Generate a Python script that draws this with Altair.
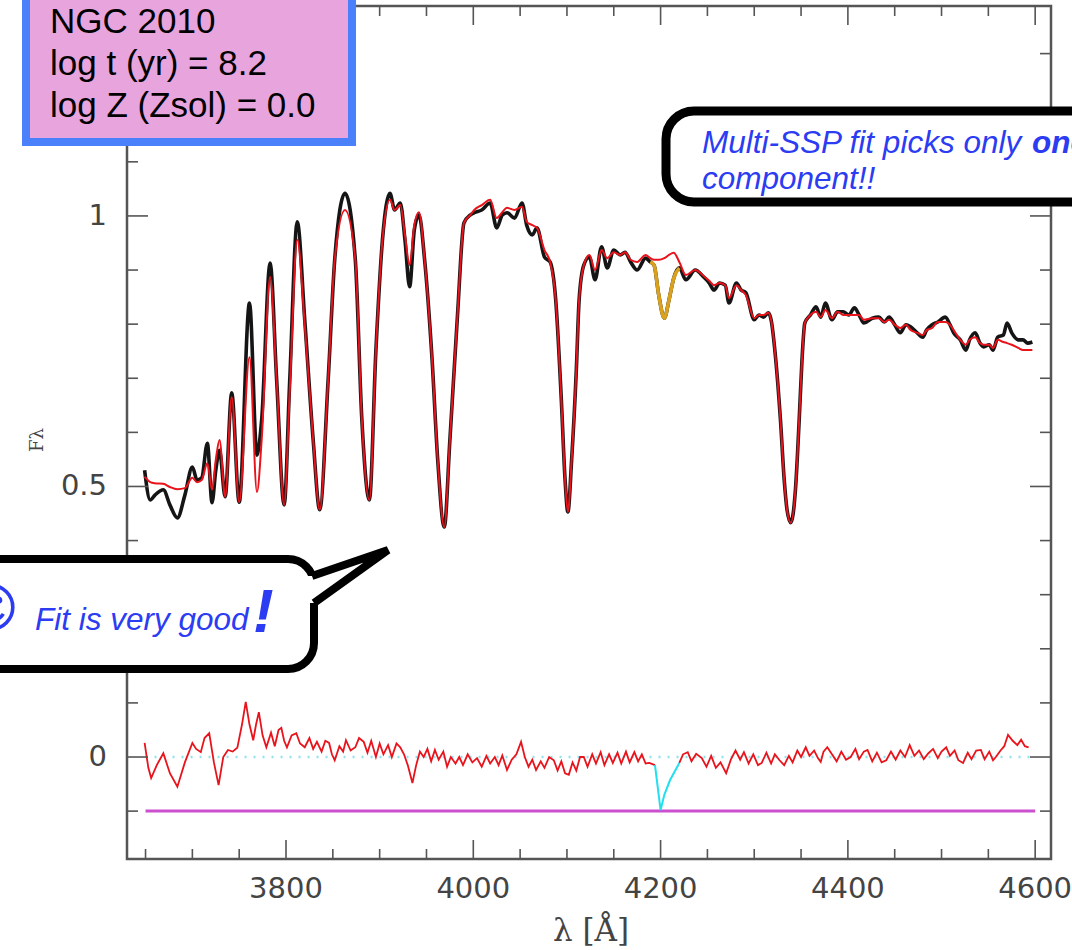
import altair as alt
import pandas as pd

# ---------------- data ----------------
wavelength = [3649, 3655, 3660, 3669, 3676, 3684, 3692, 3700, 3705, 3710, 3716, 3721, 3725, 3729, 3735,
              3742, 3750, 3761, 3769, 3774, 3783, 3790, 3798, 3804, 3812, 3820, 3829, 3836, 3845, 3852,
              3863, 3874, 3881, 3889, 3896, 3903, 3911, 3916, 3922, 3927, 3932, 3937, 3942, 3948, 3956,
              3962, 3969, 3975, 3983, 3990, 3997, 4001, 4009, 4018, 4025, 4031, 4036, 4044, 4052, 4057,
              4063, 4068, 4076, 4082, 4088, 4094, 4098, 4101, 4105, 4110, 4113, 4118, 4124, 4130, 4137,
              4143, 4150, 4157, 4162, 4168, 4175, 4184, 4189, 4193, 4198, 4204, 4209, 4214, 4220, 4227,
              4237, 4246, 4252, 4257, 4263, 4269, 4273, 4281, 4286, 4291, 4300, 4305, 4310, 4315, 4318,
              4323, 4328, 4332, 4335, 4339, 4344, 4348, 4351, 4354, 4360, 4366, 4371, 4376, 4383, 4389,
              4395, 4401, 4407, 4412, 4417, 4426, 4433, 4439, 4444, 4450, 4456, 4462, 4467, 4474, 4480,
              4484, 4490, 4496, 4504, 4509, 4513, 4520, 4526, 4530, 4536, 4541, 4545, 4551, 4555, 4560,
              4566, 4570, 4575, 4582, 4587, 4592, 4597]
observed = [0.530, 0.475, 0.484, 0.494, 0.466, 0.442, 0.484, 0.536, 0.512, 0.516, 0.580, 0.470, 0.530, 0.567, 0.481,
            0.673, 0.471, 0.839, 0.558, 0.623, 0.913, 0.697, 0.466, 0.697, 0.989, 0.808, 0.586, 0.457, 0.697, 0.919,
            1.042, 0.919, 0.623, 0.475, 0.752, 0.956, 1.042, 1.011, 1.024, 0.956, 0.869, 0.974, 1.002, 0.919, 0.734,
            0.549, 0.425, 0.586, 0.813, 0.987, 1.002, 1.006, 1.011, 1.024, 0.978, 1.002, 1.006, 0.996, 1.024, 0.983,
            0.965, 0.978, 0.924, 0.915, 0.845, 0.660, 0.512, 0.453, 0.549, 0.715, 0.845, 0.909, 0.924, 0.882, 0.943,
            0.904, 0.937, 0.928, 0.933, 0.915, 0.900, 0.922, 0.915, 0.909, 0.854, 0.811, 0.845, 0.885, 0.904, 0.882,
            0.900, 0.887, 0.876, 0.863, 0.876, 0.872, 0.839, 0.876, 0.863, 0.858, 0.808, 0.817, 0.813, 0.821, 0.808,
            0.734, 0.623, 0.512, 0.457, 0.433, 0.494, 0.623, 0.734, 0.802, 0.817, 0.832, 0.813, 0.839, 0.808, 0.823,
            0.823, 0.817, 0.830, 0.817, 0.802, 0.811, 0.813, 0.804, 0.813, 0.799, 0.784, 0.799, 0.795, 0.784, 0.776,
            0.789, 0.799, 0.804, 0.813, 0.799, 0.784, 0.771, 0.752, 0.771, 0.784, 0.765, 0.758, 0.762, 0.752, 0.776,
            0.780, 0.802, 0.784, 0.771, 0.771, 0.765, 0.767]
model = [0.518, 0.508, 0.506, 0.505, 0.499, 0.495, 0.497, 0.516, 0.508, 0.512, 0.543, 0.494, 0.549, 0.586, 0.481,
         0.665, 0.471, 0.739, 0.490, 0.586, 0.887, 0.697, 0.466, 0.678, 0.956, 0.799, 0.586, 0.457, 0.697, 0.919,
         1.011, 0.919, 0.623, 0.475, 0.752, 0.956, 1.030, 1.011, 1.020, 0.965, 0.909, 0.983, 1.007, 0.919, 0.734,
         0.549, 0.425, 0.586, 0.813, 0.987, 1.002, 1.011, 1.020, 1.030, 0.996, 1.007, 1.015, 1.011, 1.017, 0.989,
         0.983, 0.978, 0.937, 0.915, 0.845, 0.660, 0.512, 0.453, 0.549, 0.715, 0.845, 0.909, 0.928, 0.900, 0.937,
         0.922, 0.933, 0.928, 0.933, 0.919, 0.915, 0.928, 0.922, 0.919, 0.919, 0.922, 0.928, 0.932, 0.915, 0.891,
         0.900, 0.889, 0.880, 0.872, 0.876, 0.872, 0.848, 0.872, 0.863, 0.854, 0.811, 0.817, 0.817, 0.821, 0.808,
         0.734, 0.623, 0.512, 0.457, 0.433, 0.494, 0.623, 0.734, 0.802, 0.817, 0.823, 0.813, 0.826, 0.811, 0.823,
         0.817, 0.817, 0.817, 0.817, 0.808, 0.811, 0.811, 0.804, 0.808, 0.799, 0.793, 0.799, 0.789, 0.784, 0.780,
         0.789, 0.793, 0.804, 0.804, 0.799, 0.789, 0.771, 0.762, 0.771, 0.776, 0.765, 0.762, 0.762, 0.756, 0.771,
         0.767, 0.765, 0.762, 0.756, 0.752, 0.752, 0.752]

mask_wavelength = [4189, 4193, 4198, 4204, 4209, 4214, 4220]
mask_observed = [0.915, 0.909, 0.854, 0.811, 0.845, 0.885, 0.904]

res_wavelength = [3649, 3653, 3656, 3662, 3669, 3676, 3684, 3692, 3700, 3704, 3709, 3713, 3718, 3723, 3728,
                  3733, 3738, 3743, 3748, 3753, 3757, 3761, 3765, 3768, 3771, 3775, 3779, 3784, 3788, 3792,
                  3795, 3798, 3801, 3806, 3811, 3815, 3820, 3825, 3829, 3833, 3838, 3842, 3846, 3849, 3852,
                  3857, 3861, 3864, 3869, 3874, 3878, 3883, 3887, 3891, 3896, 3900, 3904, 3909, 3913, 3918,
                  3922, 3926, 3930, 3935, 3939, 3943, 3947, 3951, 3955, 3959, 3963, 3968, 3972, 3976, 3981,
                  3985, 3989, 3994, 3999, 4004, 4009, 4014, 4018, 4023, 4027, 4031, 4036, 4041, 4046, 4051,
                  4055, 4059, 4063, 4067, 4072, 4076, 4081, 4086, 4090, 4094, 4098, 4102, 4106, 4110, 4114,
                  4118, 4122, 4127, 4131, 4136, 4140, 4145, 4149, 4154, 4158, 4163, 4167, 4172, 4176, 4180,
                  4184, 4188, 4194,
                  4220, 4224, 4229, 4233, 4238, 4244, 4249, 4254, 4259, 4264, 4270, 4275, 4280, 4285, 4289,
                  4294, 4299, 4304, 4308, 4313, 4318, 4322, 4327, 4332, 4337, 4341, 4346, 4350, 4355, 4359,
                  4364, 4368, 4371, 4374, 4378, 4383, 4388, 4393, 4398, 4403, 4408, 4412, 4417, 4421, 4426,
                  4431, 4436, 4441, 4446, 4451, 4456, 4461, 4466, 4471, 4476, 4481, 4486, 4491, 4496, 4500,
                  4505, 4509, 4514, 4518, 4523, 4528, 4532, 4537, 4542, 4546, 4551, 4555, 4558, 4563, 4567,
                  4571, 4576, 4581, 4585, 4589, 4593]
residual = [0.026, -0.020, -0.039, -0.015, 0.007, -0.030, -0.055, -0.010, 0.026, 0.015, 0.009, 0.035, 0.044, -0.010, -0.052,
            0.000, 0.013, 0.010, 0.017, 0.060, 0.102, 0.060, 0.031, 0.060, 0.083, 0.040, 0.018, 0.045, 0.020, 0.050,
            0.054, 0.030, 0.018, 0.040, 0.044, 0.025, 0.018, 0.035, 0.015, 0.028, 0.010, 0.030, 0.026, 0.005, -0.006,
            0.020, 0.010, 0.031, 0.012, 0.018, 0.035, 0.028, 0.008, 0.030, 0.000, 0.025, 0.005, 0.022, 0.000, 0.025,
            0.018, 0.005, -0.015, -0.048, -0.015, 0.010, 0.000, 0.015, -0.008, 0.013, -0.005, 0.010, -0.018, 0.000, -0.012,
            0.000, -0.015, 0.005, -0.010, -0.002, -0.018, 0.002, -0.012, 0.000, -0.015, 0.003, -0.024, -0.005, 0.005, 0.028,
            0.000, -0.018, -0.005, -0.024, -0.008, -0.020, 0.000, -0.006, -0.025, -0.008, -0.030, -0.033, -0.010, -0.025, 0.000,
            0.000, -0.018, 0.005, -0.012, 0.009, -0.015, 0.005, -0.011, 0.008, -0.012, 0.010, -0.010, 0.009, -0.008, 0.005,
            -0.012, -0.011, -0.015,
            -0.011, 0.005, 0.009, -0.008, 0.006, -0.002, -0.018, 0.002, -0.020, -0.010, -0.030, -0.005, 0.012, -0.005, 0.009,
            -0.012, 0.005, -0.015, -0.011, 0.008, -0.012, 0.005, -0.006, -0.015, 0.002, -0.010, 0.012, 0.000, 0.018, 0.002,
            0.012, -0.002, -0.009, 0.010, 0.018, 0.005, -0.008, 0.010, -0.005, 0.000, 0.015, -0.004, 0.010, 0.013, -0.008,
            0.008, -0.010, -0.006, 0.010, -0.005, 0.012, 0.000, 0.022, 0.002, 0.012, -0.004, 0.007, 0.015, -0.002, 0.010,
            0.018, 0.002, 0.012, -0.006, -0.011, 0.008, -0.004, 0.012, 0.013, -0.004, 0.010, -0.006, 0.000, 0.012, 0.020,
            0.041, 0.030, 0.022, 0.032, 0.020, 0.018]

mask_res_wavelength = [4194, 4200, 4204, 4210, 4220]
mask_residual = [-0.015, -0.098, -0.070, -0.043, -0.011]

level_wavelength = [3650, 4600]
zero_level = [0.0, 0.0]
offset_level = [-0.1, -0.1]

x_major = [3800, 4000, 4200, 4400, 4600]
x_minor = [3650, 3700, 3750, 3850, 3900, 3950, 4050, 4100, 4150, 4250, 4300, 4350, 4450, 4500, 4550]
y_major = [0, 0.5, 1]
y_minor = [-0.1, 0.1, 0.2, 0.3, 0.4, 0.6, 0.7, 0.8, 0.9, 1.1, 1.2, 1.3]

# ---------------- layout ----------------
LEFT, TOP, W, H = 127, 6, 924, 853

spec = pd.DataFrame({"wl": wavelength, "obs": observed, "mod": model})
mask = pd.DataFrame({"wl": mask_wavelength, "obs": mask_observed})
res = pd.DataFrame({"wl": res_wavelength, "res": residual})
res["part"] = (res["wl"] > 4200).astype(int)
cres = pd.DataFrame({"wl": mask_res_wavelength, "res": mask_residual})
levels = pd.DataFrame({"wl": level_wavelength, "zero": zero_level, "off": offset_level})
xmaj = pd.DataFrame({"t": x_major})
xmin = pd.DataFrame({"t": x_minor})
ymaj = pd.DataFrame({"t": y_major})
ymin = pd.DataFrame({"t": y_minor})
one = pd.DataFrame({"k": [0]})

xs = alt.Scale(domain=[3630.2, 4616.9], nice=False, zero=False)
ys = alt.Scale(domain=[-0.1885, 1.388], nice=False, zero=False)


def X(f):
    return alt.X(f, type="quantitative", scale=xs, axis=None, title=None)


def Y(f):
    return alt.Y(f, type="quantitative", scale=ys, axis=None, title=None)


LABEL_FONT = "DejaVu Sans"
LABEL_COLOR = "#444"

black = alt.Chart(spec).mark_line(color="#151515", strokeWidth=3.6, interpolate="monotone").encode(
    x=X("wl"), y=Y("obs"), order="wl:Q")
yellow = alt.Chart(mask).mark_line(color="#d9a11e", strokeWidth=3.6, interpolate="monotone").encode(
    x=X("wl"), y=Y("obs"), order="wl:Q")
red = alt.Chart(spec).mark_line(color="#e8131b", strokeWidth=2, interpolate="monotone").encode(
    x=X("wl"), y=Y("mod"), order="wl:Q")

zero_line = alt.Chart(levels).mark_line(color="#8fe4ec", strokeWidth=2.5, strokeDash=[2, 7]).encode(
    x=X("wl"), y=Y("zero"))
offset_line = alt.Chart(levels).mark_line(color="#cc4fd0", strokeWidth=3).encode(
    x=X("wl"), y=Y("off"))
res_line = alt.Chart(res).mark_line(color="#e8131b", strokeWidth=1.8).encode(
    x=X("wl"), y=Y("res"), detail="part:N", order="wl:Q")
cres_line = alt.Chart(cres).mark_line(color="#22dff0", strokeWidth=2).encode(
    x=X("wl"), y=Y("res"), order="wl:Q")

TICK = "#555"
ticks = [
    alt.Chart(xmaj).mark_rule(color=TICK, strokeWidth=1.6).encode(x=X("t"), y=alt.value(H), y2=alt.value(H - 19)),
    alt.Chart(xmin).mark_rule(color=TICK, strokeWidth=1.6).encode(x=X("t"), y=alt.value(H), y2=alt.value(H - 10)),
    alt.Chart(xmaj).mark_rule(color=TICK, strokeWidth=1.6).encode(x=X("t"), y=alt.value(0), y2=alt.value(19)),
    alt.Chart(xmin).mark_rule(color=TICK, strokeWidth=1.6).encode(x=X("t"), y=alt.value(0), y2=alt.value(10)),
    alt.Chart(ymaj).mark_rule(color=TICK, strokeWidth=1.6).encode(y=Y("t"), x=alt.value(0), x2=alt.value(21)),
    alt.Chart(ymin).mark_rule(color=TICK, strokeWidth=1.6).encode(y=Y("t"), x=alt.value(0), x2=alt.value(11)),
    alt.Chart(ymaj).mark_rule(color=TICK, strokeWidth=1.6).encode(y=Y("t"), x=alt.value(W), x2=alt.value(W - 21)),
    alt.Chart(ymin).mark_rule(color=TICK, strokeWidth=1.6).encode(y=Y("t"), x=alt.value(W), x2=alt.value(W - 11)),
]

# tick labels (drawn through the same scales)
xlabels = alt.Chart(xmaj).mark_text(font=LABEL_FONT, fontSize=29, color=LABEL_COLOR, align="center",
                                    baseline="alphabetic").encode(
    x=X("t"), y=alt.value(898 - TOP), text=alt.Text("t:Q", format="d"))
ylabels = alt.Chart(ymaj).mark_text(font=LABEL_FONT, fontSize=29, color=LABEL_COLOR, align="right",
                                    baseline="middle").encode(
    y=Y("t"), x=alt.value(107 - LEFT), text=alt.Text("t:Q"))


def text(s, px, py, **kw):
    return alt.Chart(one).mark_text(**kw).encode(
        x=alt.value(px - LEFT), y=alt.value(py - TOP), text=alt.value(s))


def box(x1, y1, x2, y2, **kw):
    return alt.Chart(one).mark_rect(**kw).encode(
        x=alt.value(x1 - LEFT), x2=alt.value(x2 - LEFT), y=alt.value(y1 - TOP), y2=alt.value(y2 - TOP))


BLUE = "#2b3cf2"

xtitle = text("λ [Å]", 591, 941, font="DejaVu Serif", fontSize=31, color=LABEL_COLOR, align="center",
              baseline="alphabetic")
ytitle = text("Fλ", 38, 440, font="DejaVu Serif", fontSize=18, color=LABEL_COLOR, align="center",
              baseline="middle", angle=270)

# info box
info_box = box(26, -20, 352, 142, fill="#e8a5dd", stroke="#4a80fa", strokeWidth=8)
info1 = text("NGC 2010", 50, 33, font="Liberation Sans", fontSize=35, color="black", align="left",
             baseline="alphabetic")
info2 = text("log t (yr) = 8.2", 50, 75, font="Liberation Sans", fontSize=35, color="black", align="left",
             baseline="alphabetic")
info3 = text("log Z (Zsol) = 0.0", 50, 117, font="Liberation Sans", fontSize=35, color="black", align="left",
             baseline="alphabetic")

# multi-SSP callout
multi_box = box(666, 111, 1120, 202, fill="white", stroke="black", strokeWidth=9, cornerRadius=28)
multi1 = text("Multi-SSP fit picks only ", 702, 153, font="Liberation Sans", fontSize=31.5, fontStyle="italic",
              color=BLUE, align="left", baseline="alphabetic")
multi1b = text("one", 1032, 153, font="Liberation Sans", fontSize=31.5, fontStyle="italic", fontWeight="bold",
               color=BLUE, align="left", baseline="alphabetic")
multi2 = text("component!!", 702, 189, font="Liberation Sans", fontSize=31.5, fontStyle="italic",
              color=BLUE, align="left", baseline="alphabetic")

# fit callout with tail (tail drawn as a custom symbol path around (350, 570); 1 unit = 40 px)
fit_box = box(-60, 559, 314, 669, fill="white", stroke="black", strokeWidth=8, cornerRadius=26)
tail_fill_path = "M -1.15 0.15 L -0.95 0.15 L 0.95 -0.5 L -0.9 0.825 L -1.15 0.825 Z"
tail_line_path = "M -0.95 0.15 L 0.95 -0.5 L -0.9 0.825"
tail_fill = alt.Chart(one).mark_point(shape=tail_fill_path, size=6400, filled=True, fill="white",
                                      strokeWidth=0, opacity=1).encode(
    x=alt.value(350 - LEFT), y=alt.value(570 - TOP))
tail_line = alt.Chart(one).mark_point(shape=tail_line_path, size=6400, filled=False, stroke="black",
                                      strokeWidth=8, opacity=1, strokeJoin="miter", strokeMiterLimit=2).encode(
    x=alt.value(350 - LEFT), y=alt.value(570 - TOP))
smiley = text("☺", -9, 611, font="DejaVu Sans", fontSize=54, color=BLUE, align="center", baseline="middle")
fit_text = text("Fit is very good", 35, 630, font="Liberation Sans", fontSize=31.5, fontStyle="italic",
                color=BLUE, align="left", baseline="alphabetic")
bang = text("!", 253, 632, font="Liberation Sans", fontSize=62, fontStyle="italic", fontWeight="bold",
            color=BLUE, align="left", baseline="alphabetic")

chart = alt.layer(
    zero_line, offset_line, black, yellow, red, res_line, cres_line, *ticks,
    xlabels, ylabels, xtitle, ytitle,
    info_box, info1, info2, info3,
    multi_box, multi1, multi1b, multi2,
    fit_box, tail_fill, tail_line, smiley, fit_text, bang,
).properties(
    width=W, height=H,
    padding={"left": LEFT, "top": TOP, "right": 1072 - LEFT - W, "bottom": 950 - TOP - H},
    autosize=alt.AutoSizeParams(type="none"),
    background="white",
).configure_view(stroke="#555", strokeWidth=2.5)

chart.save("out.html", embed_options={"renderer": "svg", "actions": False})
